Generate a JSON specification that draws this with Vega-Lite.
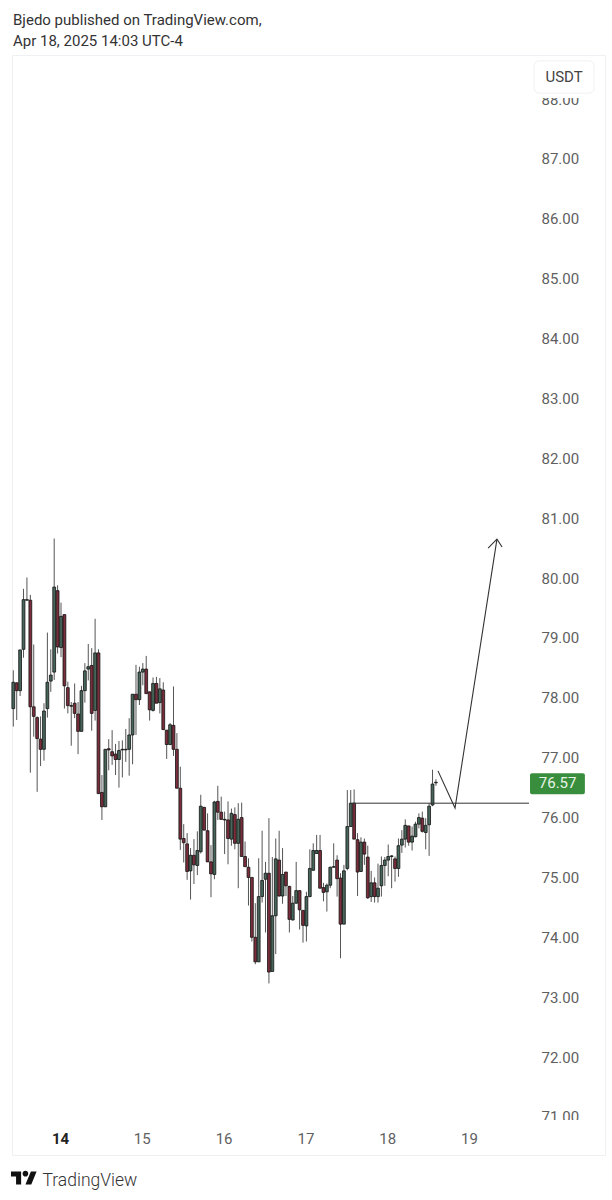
{"$schema":"https://vega.github.io/schema/vega-lite/v6.json","width":593,"height":1100,"autosize":{"type":"none"},"padding":{"left":12,"top":55,"right":7,"bottom":45},"background":"#ffffff","config":{"view":{"stroke":"#eef0f4"},"font":"Roboto"},
"title":{"text":["Bjedo published on TradingView.com,","Apr 18, 2025 14:03 UTC-4"],"anchor":"start","frame":"group","fontSize":15,"fontWeight":"normal","font":"Roboto","color":"#333333","lineHeight":21,"offset":6,"dx":1},
"resolve":{"axis":{"x":"independent","y":"independent"}},
"layer":[
{"data":{"name":"candles","values":[
{"t":-13.7,"o":77.82,"h":78.46,"l":77.52,"c":78.26,"d":"up"},
{"t":-12.7,"o":78.25,"h":78.26,"l":77.63,"c":78.12,"d":"down"},
{"t":-11.7,"o":78.12,"h":78.80,"l":78.03,"c":78.80,"d":"up"},
{"t":-10.7,"o":78.81,"h":79.82,"l":78.67,"c":79.64,"d":"up"},
{"t":-9.7,"o":79.63,"h":80.01,"l":79.63,"c":79.64,"d":"up"},
{"t":-8.7,"o":79.63,"h":79.72,"l":76.75,"c":77.85,"d":"down"},
{"t":-7.7,"o":77.85,"h":78.89,"l":77.35,"c":77.69,"d":"down"},
{"t":-6.7,"o":77.67,"h":77.69,"l":76.43,"c":77.32,"d":"down"},
{"t":-5.7,"o":77.31,"h":77.69,"l":76.86,"c":77.14,"d":"down"},
{"t":-4.7,"o":77.14,"h":77.91,"l":76.95,"c":77.78,"d":"up"},
{"t":-3.7,"o":77.82,"h":79.09,"l":77.67,"c":78.26,"d":"up"},
{"t":-2.7,"o":78.28,"h":78.81,"l":78.10,"c":78.38,"d":"up"},
{"t":-1.7,"o":78.43,"h":80.66,"l":78.30,"c":79.85,"d":"up"},
{"t":-0.7,"o":79.79,"h":79.88,"l":78.74,"c":78.85,"d":"down"},
{"t":0.3,"o":78.84,"h":79.59,"l":78.68,"c":79.36,"d":"up"},
{"t":1.3,"o":79.39,"h":79.39,"l":77.82,"c":78.20,"d":"down"},
{"t":2.3,"o":78.17,"h":78.27,"l":77.74,"c":77.87,"d":"down"},
{"t":3.3,"o":77.87,"h":77.93,"l":77.20,"c":77.86,"d":"down"},
{"t":4.3,"o":77.91,"h":78.24,"l":77.66,"c":77.74,"d":"down"},
{"t":5.3,"o":77.73,"h":77.93,"l":77.06,"c":77.44,"d":"down"},
{"t":6.3,"o":77.44,"h":78.20,"l":77.44,"c":78.12,"d":"up"},
{"t":7.3,"o":78.12,"h":78.58,"l":77.92,"c":78.45,"d":"up"},
{"t":8.3,"o":78.48,"h":78.90,"l":78.29,"c":78.52,"d":"up"},
{"t":9.3,"o":78.54,"h":78.83,"l":77.45,"c":77.74,"d":"down"},
{"t":10.3,"o":77.79,"h":79.32,"l":77.62,"c":78.75,"d":"up"},
{"t":11.3,"o":78.75,"h":78.81,"l":76.40,"c":76.40,"d":"down"},
{"t":12.3,"o":76.42,"h":76.71,"l":75.96,"c":76.18,"d":"down"},
{"t":13.3,"o":76.18,"h":77.14,"l":76.18,"c":77.14,"d":"up"},
{"t":14.3,"o":77.15,"h":77.31,"l":76.79,"c":77.13,"d":"down"},
{"t":15.3,"o":77.10,"h":77.46,"l":76.88,"c":77.03,"d":"down"},
{"t":16.3,"o":77.06,"h":77.23,"l":76.71,"c":76.97,"d":"down"},
{"t":17.3,"o":76.97,"h":77.28,"l":76.50,"c":77.12,"d":"up"},
{"t":18.3,"o":77.13,"h":77.29,"l":76.67,"c":77.14,"d":"up"},
{"t":19.3,"o":77.13,"h":77.48,"l":76.93,"c":77.14,"d":"up"},
{"t":20.3,"o":77.14,"h":77.66,"l":76.70,"c":77.38,"d":"up"},
{"t":21.3,"o":77.38,"h":78.06,"l":76.89,"c":78.06,"d":"up"},
{"t":22.3,"o":78.06,"h":78.55,"l":77.38,"c":77.97,"d":"down"},
{"t":23.3,"o":77.97,"h":78.52,"l":77.88,"c":78.43,"d":"up"},
{"t":24.3,"o":78.43,"h":78.58,"l":78.21,"c":78.48,"d":"up"},
{"t":25.3,"o":78.48,"h":78.70,"l":78.07,"c":78.07,"d":"down"},
{"t":26.3,"o":78.10,"h":78.10,"l":77.62,"c":77.80,"d":"down"},
{"t":27.3,"o":77.79,"h":78.34,"l":77.77,"c":78.24,"d":"up"},
{"t":28.3,"o":78.24,"h":78.35,"l":77.91,"c":77.91,"d":"down"},
{"t":29.3,"o":77.92,"h":78.33,"l":77.74,"c":78.15,"d":"up"},
{"t":30.3,"o":78.13,"h":78.26,"l":77.46,"c":77.47,"d":"down"},
{"t":31.3,"o":77.46,"h":77.46,"l":76.98,"c":77.22,"d":"down"},
{"t":32.3,"o":77.22,"h":77.58,"l":77.21,"c":77.55,"d":"up"},
{"t":33.3,"o":77.54,"h":78.19,"l":77.03,"c":77.14,"d":"down"},
{"t":34.3,"o":77.14,"h":77.41,"l":76.49,"c":76.49,"d":"down"},
{"t":35.3,"o":76.49,"h":76.85,"l":75.46,"c":75.64,"d":"down"},
{"t":36.3,"o":75.65,"h":75.89,"l":75.25,"c":75.58,"d":"down"},
{"t":37.3,"o":75.56,"h":75.74,"l":74.96,"c":75.10,"d":"down"},
{"t":38.3,"o":75.11,"h":75.49,"l":74.63,"c":75.37,"d":"up"},
{"t":39.3,"o":75.37,"h":75.64,"l":74.89,"c":75.21,"d":"down"},
{"t":40.3,"o":75.20,"h":75.77,"l":75.04,"c":75.45,"d":"up"},
{"t":41.3,"o":75.43,"h":76.38,"l":75.40,"c":76.19,"d":"up"},
{"t":42.3,"o":76.17,"h":76.18,"l":75.79,"c":75.79,"d":"down"},
{"t":43.3,"o":75.78,"h":76.07,"l":75.26,"c":75.26,"d":"down"},
{"t":44.3,"o":75.26,"h":75.54,"l":74.67,"c":75.06,"d":"down"},
{"t":45.3,"o":75.05,"h":76.28,"l":74.97,"c":76.26,"d":"up"},
{"t":46.3,"o":76.27,"h":76.53,"l":75.96,"c":76.09,"d":"down"},
{"t":47.3,"o":76.09,"h":76.35,"l":75.96,"c":75.97,"d":"down"},
{"t":48.3,"o":75.97,"h":76.10,"l":75.39,"c":75.96,"d":"down"},
{"t":49.3,"o":75.96,"h":76.27,"l":75.22,"c":75.65,"d":"down"},
{"t":50.3,"o":75.64,"h":76.15,"l":75.53,"c":76.07,"d":"up"},
{"t":51.3,"o":76.05,"h":76.17,"l":75.47,"c":75.57,"d":"down"},
{"t":52.3,"o":75.57,"h":76.24,"l":74.82,"c":75.97,"d":"up"},
{"t":53.3,"o":76.00,"h":76.25,"l":75.35,"c":75.35,"d":"down"},
{"t":54.3,"o":75.35,"h":75.60,"l":75.18,"c":75.18,"d":"down"},
{"t":55.3,"o":75.17,"h":75.32,"l":74.53,"c":75.00,"d":"down"},
{"t":56.3,"o":75.00,"h":75.00,"l":73.93,"c":74.00,"d":"down"},
{"t":57.3,"o":74.00,"h":74.57,"l":73.55,"c":73.59,"d":"down"},
{"t":58.3,"o":73.59,"h":75.32,"l":73.59,"c":74.68,"d":"up"},
{"t":59.3,"o":74.68,"h":75.78,"l":74.58,"c":74.95,"d":"up"},
{"t":60.3,"o":74.97,"h":75.26,"l":74.08,"c":75.07,"d":"up"},
{"t":61.3,"o":75.07,"h":75.99,"l":73.23,"c":73.42,"d":"down"},
{"t":62.3,"o":73.43,"h":75.34,"l":73.43,"c":74.36,"d":"up"},
{"t":63.3,"o":74.36,"h":75.65,"l":73.72,"c":75.31,"d":"up"},
{"t":64.3,"o":75.29,"h":75.78,"l":74.68,"c":74.69,"d":"down"},
{"t":65.3,"o":74.69,"h":75.49,"l":74.56,"c":75.05,"d":"up"},
{"t":66.3,"o":75.09,"h":75.09,"l":74.69,"c":74.86,"d":"down"},
{"t":67.3,"o":74.85,"h":74.86,"l":74.08,"c":74.30,"d":"down"},
{"t":68.3,"o":74.29,"h":74.69,"l":74.28,"c":74.57,"d":"up"},
{"t":69.3,"o":74.57,"h":75.26,"l":74.56,"c":74.78,"d":"up"},
{"t":70.3,"o":74.78,"h":74.78,"l":74.13,"c":74.46,"d":"down"},
{"t":71.3,"o":74.45,"h":74.45,"l":73.91,"c":74.20,"d":"down"},
{"t":72.3,"o":74.19,"h":74.76,"l":73.93,"c":74.68,"d":"up"},
{"t":73.3,"o":74.68,"h":75.47,"l":74.67,"c":75.15,"d":"up"},
{"t":74.3,"o":75.12,"h":75.57,"l":75.11,"c":75.45,"d":"up"},
{"t":75.3,"o":75.40,"h":75.71,"l":75.40,"c":75.45,"d":"up"},
{"t":76.3,"o":75.45,"h":75.71,"l":74.82,"c":74.82,"d":"down"},
{"t":77.3,"o":74.83,"h":74.91,"l":74.60,"c":74.75,"d":"down"},
{"t":78.3,"o":74.76,"h":74.90,"l":74.43,"c":74.87,"d":"up"},
{"t":79.3,"o":74.87,"h":75.18,"l":74.82,"c":75.17,"d":"up"},
{"t":80.3,"o":75.17,"h":75.57,"l":75.17,"c":75.18,"d":"up"},
{"t":81.3,"o":75.29,"h":75.37,"l":74.68,"c":74.98,"d":"down"},
{"t":82.3,"o":74.99,"h":75.07,"l":73.65,"c":74.22,"d":"down"},
{"t":83.3,"o":74.22,"h":75.21,"l":74.22,"c":75.11,"d":"up"},
{"t":84.3,"o":75.15,"h":76.46,"l":75.12,"c":75.85,"d":"up"},
{"t":85.3,"o":75.85,"h":76.46,"l":75.85,"c":76.24,"d":"up"},
{"t":86.3,"o":76.24,"h":76.47,"l":75.64,"c":75.64,"d":"down"},
{"t":87.3,"o":75.63,"h":75.74,"l":74.69,"c":75.09,"d":"down"},
{"t":88.3,"o":75.10,"h":75.67,"l":75.09,"c":75.59,"d":"up"},
{"t":89.3,"o":75.59,"h":75.65,"l":75.21,"c":75.39,"d":"down"},
{"t":90.3,"o":75.34,"h":75.53,"l":74.64,"c":74.66,"d":"down"},
{"t":91.3,"o":74.68,"h":75.11,"l":74.59,"c":74.91,"d":"up"},
{"t":92.3,"o":74.91,"h":75.00,"l":74.58,"c":74.68,"d":"down"},
{"t":93.3,"o":74.68,"h":75.23,"l":74.58,"c":74.82,"d":"up"},
{"t":94.3,"o":74.86,"h":75.35,"l":74.68,"c":75.20,"d":"up"},
{"t":95.3,"o":75.20,"h":75.34,"l":74.86,"c":75.29,"d":"up"},
{"t":96.3,"o":75.29,"h":75.55,"l":75.02,"c":75.35,"d":"up"},
{"t":97.3,"o":75.35,"h":75.37,"l":74.82,"c":75.36,"d":"up"},
{"t":98.3,"o":75.31,"h":75.35,"l":74.93,"c":75.15,"d":"down"},
{"t":99.3,"o":75.15,"h":75.65,"l":75.01,"c":75.53,"d":"up"},
{"t":100.3,"o":75.54,"h":75.79,"l":75.41,"c":75.64,"d":"up"},
{"t":101.3,"o":75.64,"h":75.97,"l":75.50,"c":75.87,"d":"up"},
{"t":102.3,"o":75.86,"h":75.86,"l":75.53,"c":75.59,"d":"down"},
{"t":103.3,"o":75.59,"h":75.85,"l":75.45,"c":75.69,"d":"up"},
{"t":104.3,"o":75.68,"h":75.93,"l":75.67,"c":75.89,"d":"up"},
{"t":105.3,"o":75.89,"h":76.07,"l":75.82,"c":76.00,"d":"up"},
{"t":106.3,"o":75.99,"h":76.10,"l":75.75,"c":75.77,"d":"down"},
{"t":107.3,"o":75.75,"h":75.99,"l":75.47,"c":75.87,"d":"up"},
{"t":108.3,"o":75.88,"h":76.24,"l":75.36,"c":76.19,"d":"up"},
{"t":109.3,"o":76.21,"h":76.80,"l":76.19,"c":76.56,"d":"up"},
{"t":110.3,"o":76.58,"h":76.64,"l":76.53,"c":76.59,"d":"up"}
]},
"mark":{"type":"rule","color":"#555555","strokeWidth":1},
"encoding":{
"x":{"field":"t","type":"quantitative","scale":{"domain":[-14.08,159.9],"nice":false,"zero":false,"padding":0},"axis":{"values":[0,24,48,72,96,120],"labelExpr":"14 + datum.value / 24","orient":"bottom","title":"TradingView","titleFont":"Roboto","titleFontSize":17.5,"titleFontWeight":300,"titleColor":"#333333","titleAnchor":"start","titleAlign":"left","titleBaseline":"alphabetic","titleX":30,"titleY":30,"labelFont":"Roboto","labelFontSize":15,"labelColor":{"expr":"datum.value == 0 ? '#222222' : '#5f5f5f'"},"labelFontWeight":{"expr":"datum.value == 0 ? 'bold' : 'normal'"},"labelPadding":-17,"labelBaseline":"middle","ticks":false,"domain":false,"grid":false,"labelFlush":false,"labelOverlap":false,"labelBound":false,"zindex":1}},
"y":{"field":"l","type":"quantitative","scale":{"domain":[70.364,88.737],"nice":false,"zero":false,"padding":0},"axis":{"values":[71,72,73,74,75,76,77,78,79,80,81,82,83,84,85,86,87,88],"format":".2f","orient":"right","title":null,"labelFont":"Roboto","labelFontSize":15,"labelColor":"#5f5f5f","labelAlign":"left","labelPadding":-64,"ticks":false,"domain":false,"grid":false,"labelFlush":false,"labelOverlap":false,"labelBound":false,"zindex":0}},
"y2":{"field":"h"}}},
{"data":{"name":"candles"},
"mark":{"type":"bar","size":2.8,"stroke":"#111111","strokeWidth":0.8},
"encoding":{
"x":{"field":"t","type":"quantitative","axis":null},
"y":{"field":"o","type":"quantitative","axis":null},
"y2":{"field":"c"},
"color":{"field":"d","type":"nominal","legend":null,"scale":{"domain":["up","down"],"range":["#47665a","#7b2d3b"]}}}},
{"data":{"values":[{"t":85.67,"p":76.24},{"t":137.6,"p":76.24}]},
"mark":{"type":"line","color":"#333333","strokeWidth":1},
"encoding":{"x":{"field":"t","type":"quantitative","axis":null},"y":{"field":"p","type":"quantitative","axis":null}}},
{"data":{"values":[{"s":"a","n":1,"t":110.9,"p":76.78},{"s":"a","n":2,"t":115.9,"p":76.16},{"s":"a","n":3,"t":128.2,"p":80.65},{"s":"b","n":1,"t":125.6,"p":80.50},{"s":"b","n":2,"t":128.2,"p":80.65},{"s":"b","n":3,"t":129.7,"p":80.52}]},
"mark":{"type":"line","color":"#333333","strokeWidth":1.1},
"encoding":{"x":{"field":"t","type":"quantitative","axis":null},"y":{"field":"p","type":"quantitative","axis":null},"detail":{"field":"s"},"order":{"field":"n"}}},
{"data":{"values":[{"a":137.9,"b":154,"p":76.74,"q":76.39}]},
"mark":{"type":"rect","color":"#388e3c","cornerRadius":2},
"encoding":{"x":{"field":"a","type":"quantitative","axis":null},"x2":{"field":"b"},"y":{"field":"p","type":"quantitative","axis":null},"y2":{"field":"q"}}},
{"data":{"values":[{"t":146,"p":76.57,"s":"76.57"}]},
"mark":{"type":"text","font":"Roboto","fontSize":15,"color":"#e8f5e9","align":"center","baseline":"middle"},
"encoding":{"x":{"field":"t","type":"quantitative","axis":null},"y":{"field":"p","type":"quantitative","axis":null},"text":{"field":"s"}}},
{"data":{"values":[{"a":137.9,"b":158.4,"p":88.7,"q":88.02},{"a":137.9,"b":158.4,"p":70.95,"q":70.40}]},
"mark":{"type":"rect","color":"#ffffff"},
"encoding":{"x":{"field":"a","type":"quantitative","axis":null},"x2":{"field":"b"},"y":{"field":"p","type":"quantitative","axis":null},"y2":{"field":"q"}}},
{"data":{"values":[{"a":139.1,"b":156.7,"p":88.64,"q":88.10}]},
"mark":{"type":"rect","fill":"#ffffff","stroke":"#f0f1f5","cornerRadius":5},
"encoding":{"x":{"field":"a","type":"quantitative","axis":null},"x2":{"field":"b"},"y":{"field":"p","type":"quantitative","axis":null},"y2":{"field":"q"}}},
{"data":{"values":[{"t":147.9,"p":88.37,"s":"USDT"}]},
"mark":{"type":"text","font":"Roboto","fontSize":15,"color":"#444444","align":"center","baseline":"middle"},
"encoding":{"x":{"field":"t","type":"quantitative","axis":null},"y":{"field":"p","type":"quantitative","axis":null},"text":{"field":"s"}}},
{"data":{"values":[{"t":-10.56,"p":69.98}]},
"mark":{"type":"point","filled":true,"color":"#111111","opacity":1,"size":676,"shape":"M-0.22 0.5H-0.61V-0.11H-1V-0.5H-0.22ZM0.56 0.5H0.11L0.53 -0.5H0.97ZM-0.11 -0.33A0.22 0.22 0 1 0 0.33 -0.33A0.22 0.22 0 1 0 -0.11 -0.33Z"},
"encoding":{"x":{"field":"t","type":"quantitative","axis":null},"y":{"field":"p","type":"quantitative","axis":null}}}
]}
